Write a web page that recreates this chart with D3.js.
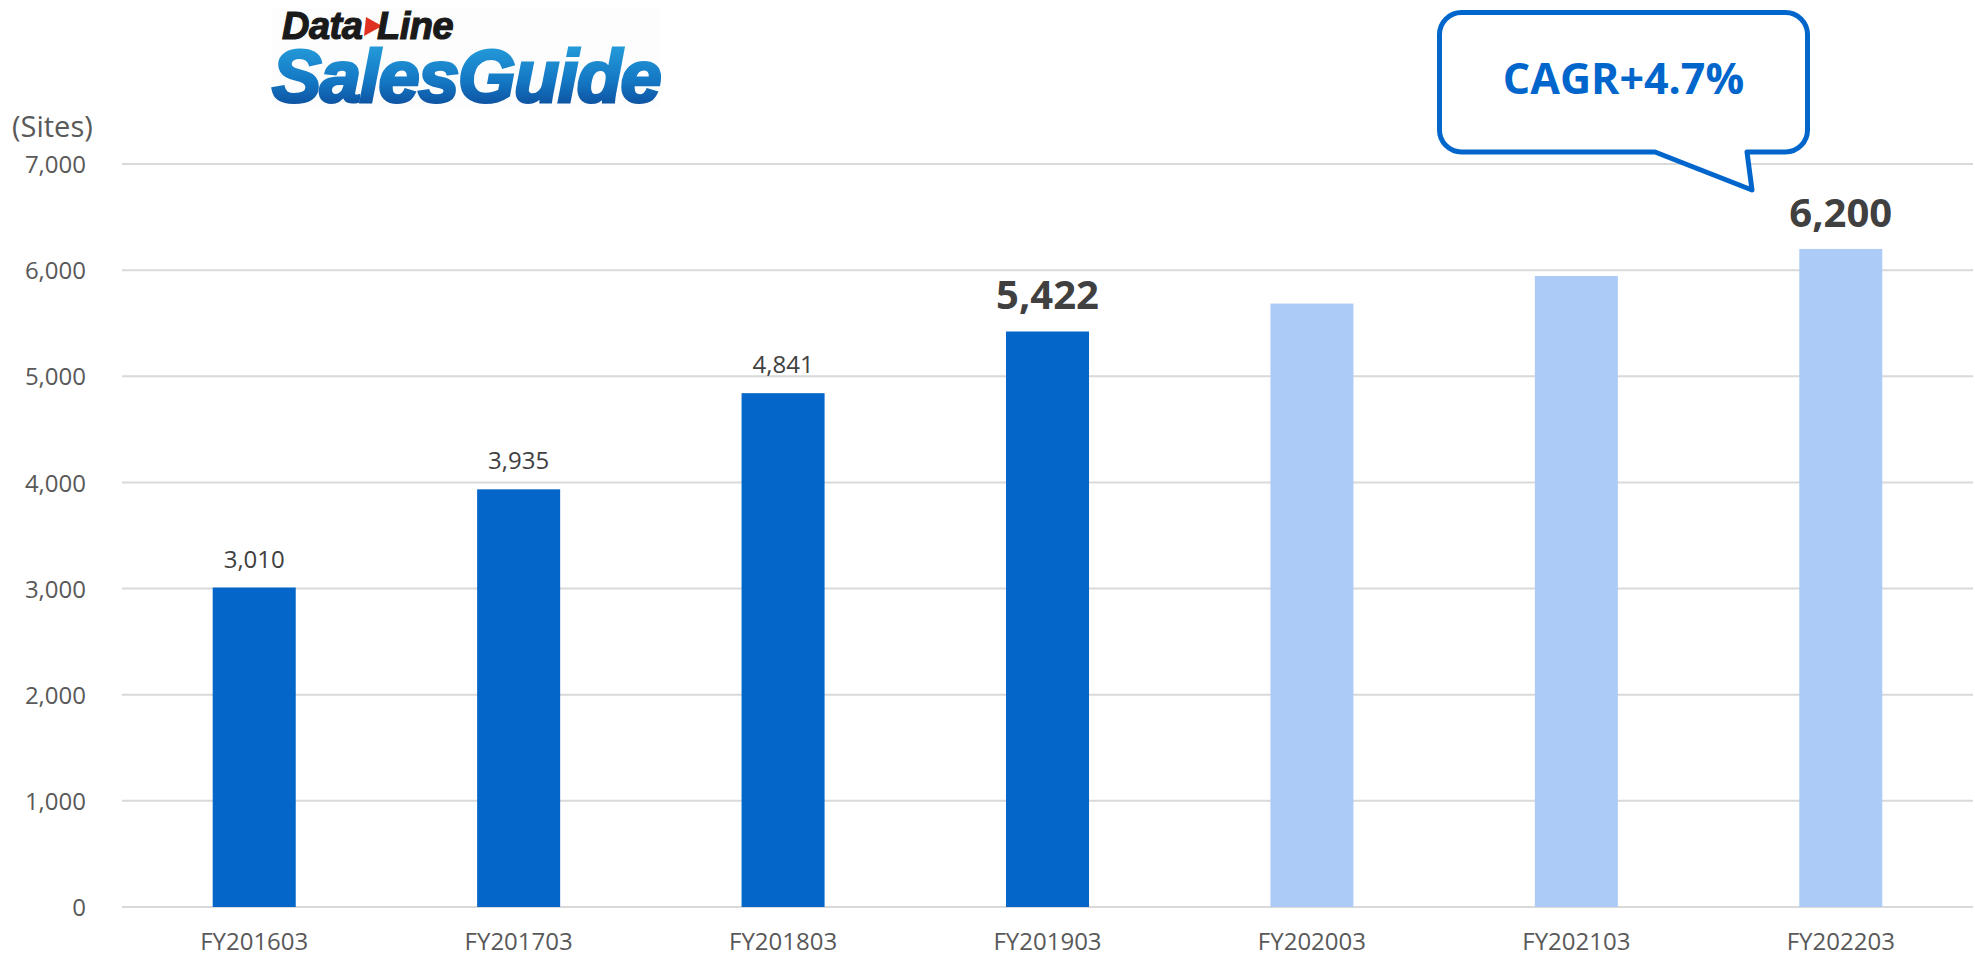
<!DOCTYPE html>
<html>
<head>
<meta charset="utf-8">
<script src="https://cdn.jsdelivr.net/npm/d3@7"></script>
<style>
  html, body { margin: 0; padding: 0; background: #fff; }
  svg { display: block; }
</style>
</head>
<body>
<svg id="chart" width="1975" height="957"></svg>
<script>
const categories = ["FY201603", "FY201703", "FY201803", "FY201903", "FY202003", "FY202103", "FY202203"];
const values = [3010, 3935, 4841, 5422, 5685, 5945, 6200];
const isForecast = [false, false, false, false, true, true, true];
const valueLabels = ["3,010", "3,935", "4,841", "5,422", "", "", "6,200"];
const labelEmphasis = [false, false, false, true, false, false, true];
const yTicks = [0, 1000, 2000, 3000, 4000, 5000, 6000, 7000];
const yUnit = "(Sites)";
const calloutText = "CAGR+4.7%";

const svg = d3.select("#chart");
const FONT = "'Open Sans', 'Noto Sans', sans-serif";

const x = d3.scaleBand().domain(categories).range([122, 1973]).paddingInner(0.686).paddingOuter(0.343);
const y = d3.scaleLinear().domain([0, 7000]).range([907, 164]);

// gridlines
svg.append("g").selectAll("line").data(yTicks).join("line")
  .attr("x1", 122).attr("x2", 1973)
  .attr("y1", d => y(d)).attr("y2", d => y(d))
  .attr("stroke", "#d9d9d9").attr("stroke-width", 2);

// y axis labels
const yAxis = d3.axisLeft(y).tickValues(yTicks).tickSize(0).tickPadding(0).tickFormat(d3.format(","));
const yg = svg.append("g").attr("transform", "translate(86,0)").call(yAxis);
yg.select(".domain").remove();
yg.selectAll("text").attr("font-family", FONT).attr("font-size", 24).attr("fill", "#595959").attr("dy", "0.36em");

// unit label
svg.append("text").attr("x", 12).attr("y", 137).text(yUnit)
  .attr("font-family", FONT).attr("font-size", 29).attr("fill", "#595959");

// bars
svg.append("g").selectAll("rect").data(values).join("rect")
  .attr("x", (d, i) => x(categories[i]))
  .attr("width", x.bandwidth())
  .attr("y", d => y(d))
  .attr("height", d => y(0) - y(d))
  .attr("fill", (d, i) => isForecast[i] ? "#ADCBF7" : "#0466C8");

// x axis labels
const xAxis = d3.axisBottom(x).tickSize(0).tickPadding(0);
const xg = svg.append("g").attr("transform", "translate(0,950)").call(xAxis);
xg.select(".domain").remove();
xg.selectAll("text").attr("font-family", FONT).attr("font-size", 24).attr("fill", "#595959").attr("dy", 0);

// value labels
svg.append("g").selectAll("text").data(values).join("text")
  .attr("x", (d, i) => x(categories[i]) + x.bandwidth() / 2)
  .attr("y", (d, i) => y(d) - (labelEmphasis[i] ? 22 : 20))
  .attr("text-anchor", "middle")
  .attr("font-family", FONT)
  .attr("font-size", (d, i) => labelEmphasis[i] ? 40 : 24)
  .attr("font-weight", (d, i) => labelEmphasis[i] ? 700 : 400)
  .attr("fill", "#404040")
  .text((d, i) => valueLabels[i]);

// callout
const L = 1439.5, T = 12.5, R = 1807.5, B = 152, r = 22;
const tailL = 1655, tailR = 1747, tipX = 1752, tipY = 190;
const p = d3.path();
p.moveTo(L + r, T);
p.lineTo(R - r, T);
p.arcTo(R, T, R, T + r, r);
p.lineTo(R, B - r);
p.arcTo(R, B, R - r, B, r);
p.lineTo(tailR, B);
p.lineTo(tipX, tipY);
p.lineTo(tailL, B);
p.lineTo(L + r, B);
p.arcTo(L, B, L, B - r, r);
p.lineTo(L, T + r);
p.arcTo(L, T, L + r, T, r);
p.closePath();
svg.append("path").attr("d", p.toString()).attr("fill", "#fff")
  .attr("stroke", "#0066CC").attr("stroke-width", 5).attr("stroke-linejoin", "round");
svg.append("text").attr("x", (L + R) / 2).attr("y", 94).attr("text-anchor", "middle")
  .attr("font-family", FONT).attr("font-size", 43).attr("font-weight", 700).attr("fill", "#0066CC")
  .text(calloutText);

// logo
const defs = svg.append("defs");
const grad = defs.append("linearGradient").attr("id", "logoGrad").attr("x1", 0).attr("y1", 0).attr("x2", 0).attr("y2", 1);
grad.append("stop").attr("offset", "0%").attr("stop-color", "#2aa6e0");
grad.append("stop").attr("offset", "55%").attr("stop-color", "#1478c4");
grad.append("stop").attr("offset", "100%").attr("stop-color", "#0a3f8f");
const logo = svg.append("g");
logo.append("rect").attr("x", 272).attr("y", 8).attr("width", 388).attr("height", 100).attr("fill", "#fdfdfd");
const logoFont = "'Liberation Sans', Arial, sans-serif";
logo.append("text").attr("x", 282).attr("y", 39)
  .attr("font-family", logoFont).attr("font-size", 38)
  .attr("font-weight", 700).attr("font-style", "italic").attr("fill", "#1a1a1a")
  .attr("stroke", "#1a1a1a").attr("stroke-width", 1.2).attr("letter-spacing", -0.5)
  .text("Data");
logo.append("path").attr("d", "M366,17 L382,26 L364,36 Z").attr("fill", "#e03020");
logo.append("text").attr("x", 377).attr("y", 39)
  .attr("font-family", logoFont).attr("font-size", 38)
  .attr("font-weight", 700).attr("font-style", "italic").attr("fill", "#1a1a1a")
  .attr("stroke", "#1a1a1a").attr("stroke-width", 1.2).attr("letter-spacing", -0.5)
  .text("Line");
logo.append("text").attr("x", 272).attr("y", 102)
  .attr("font-family", logoFont).attr("font-size", 74)
  .attr("font-weight", 700).attr("font-style", "italic").attr("fill", "url(#logoGrad)")
  .attr("stroke", "url(#logoGrad)").attr("stroke-width", 3).attr("letter-spacing", -1.5)
  .text("SalesGuide");
</script>
</body>
</html>
